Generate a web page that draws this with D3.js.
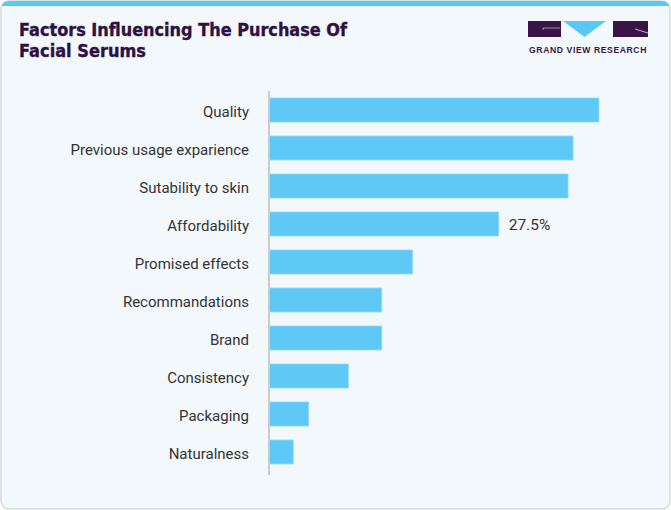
<!DOCTYPE html>
<html><head><meta charset="utf-8">
<script src="https://cdn.jsdelivr.net/npm/d3@7"></script>
<style>html,body{margin:0;padding:0;background:#fff;}</style>
</head><body>
<script>
const categories = ["Quality","Previous usage exparience","Sutability to skin","Affordability","Promised effects","Recommandations","Brand","Consistency","Packaging","Naturalness"];
const values = [39.5, 36.4, 35.8, 27.5, 17.2, 13.5, 13.5, 9.5, 4.75, 2.9];
const labeled = ["Affordability"];
const titleLines = ["Factors Influencing The Purchase Of", "Facial Serums"];
const titleWidths = [328, 127];

const W = 671, H = 510;
const svg = d3.select("body").append("svg").attr("width", W).attr("height", H);

// card
svg.append("rect").attr("x",1).attr("y",1).attr("width",W-2).attr("height",H-2).attr("rx",8)
  .attr("fill","#f3f8fc").attr("stroke","#d6dadd").attr("stroke-width",1.5);
svg.append("clipPath").attr("id","c").append("rect").attr("x",1).attr("y",1).attr("width",W-2).attr("height",H-2).attr("rx",8);
svg.append("rect").attr("x",0).attr("y",0).attr("width",W).attr("height",6).attr("fill","#5ac8f5").attr("clip-path","url(#c)");

// title
svg.append("g").selectAll("text").data(titleLines).join("text")
  .attr("x",19).attr("y",(d,i)=>36+i*20.7)
  .attr("font-family","'DejaVu Sans',Arial,sans-serif")
  .attr("font-weight","bold").attr("font-size",18).attr("fill","#2e1141")
  .attr("textLength",(d,i)=>titleWidths[i]).attr("lengthAdjust","spacingAndGlyphs")
  .attr("stroke","#2e1141").attr("stroke-width",0.4)
  .text(d=>d);

// logo
const lg = svg.append("g");
lg.append("rect").attr("x",528).attr("y",21).attr("width",33).attr("height",16).attr("fill","#3a1447");
lg.append("path").attr("d","M563,21 L606,21 L584.5,37 Z").attr("fill","#5ac8f5");
lg.append("rect").attr("x",613).attr("y",21).attr("width",35).attr("height",16).attr("fill","#3a1447");
lg.append("path").attr("d","M543,30 L543,28 L560,28").attr("stroke","#b9a9c4").attr("fill","none").attr("stroke-width",0.8);
lg.append("path").attr("d","M635,29 L648,33").attr("stroke","#e0d8e6").attr("fill","none").attr("stroke-width",0.8);
lg.append("text").attr("x",588).attr("y",53).attr("text-anchor","middle")
  .attr("font-family","'Liberation Sans',Arial,sans-serif").attr("font-weight","bold").attr("font-size",8.6)
  .attr("letter-spacing",0.6).attr("fill","#3a1447").text("GRAND VIEW RESEARCH");

// chart
const x = d3.scaleLinear().domain([0, 27.5]).range([269, 498.7]);
const y = d3.scaleBand().domain(categories).range([91, 471]).paddingInner(0.3684).paddingOuter(0.1842);

svg.append("g").selectAll("rect").data(categories).join("rect")
  .attr("x", x(0)).attr("y", d=>y(d))
  .attr("width", (d,i)=>x(values[i])-x(0)).attr("height", y.bandwidth())
  .attr("fill","#5ec9f6").attr("stroke","#8fd8f7").attr("stroke-width",0.8);

const yAxis = d3.axisLeft(y).tickSize(0).tickPadding(20);
const ag = svg.append("g").attr("transform",`translate(${x(0)},0)`).call(yAxis);
ag.select(".domain").remove();
ag.selectAll("text").attr("font-family","Roboto,'Liberation Sans',Arial,sans-serif").attr("font-size",15).attr("fill","#333").attr("dy","0.45em");
svg.append("line").attr("x1",x(0)).attr("x2",x(0)).attr("y1",91).attr("y2",475).attr("stroke","#cccccc").attr("stroke-width",2);

svg.append("g").selectAll("text").data(categories.filter(c=>labeled.includes(c))).join("text")
  .attr("x", d=>x(values[categories.indexOf(d)])+10)
  .attr("y", d=>y(d)+y.bandwidth()/2).attr("dy","0.4em")
  .attr("font-family","Roboto,'Liberation Sans',Arial,sans-serif").attr("font-size",15.5).attr("fill","#333")
  .text(d=>values[categories.indexOf(d)]+"%");
</script>
</body></html>
